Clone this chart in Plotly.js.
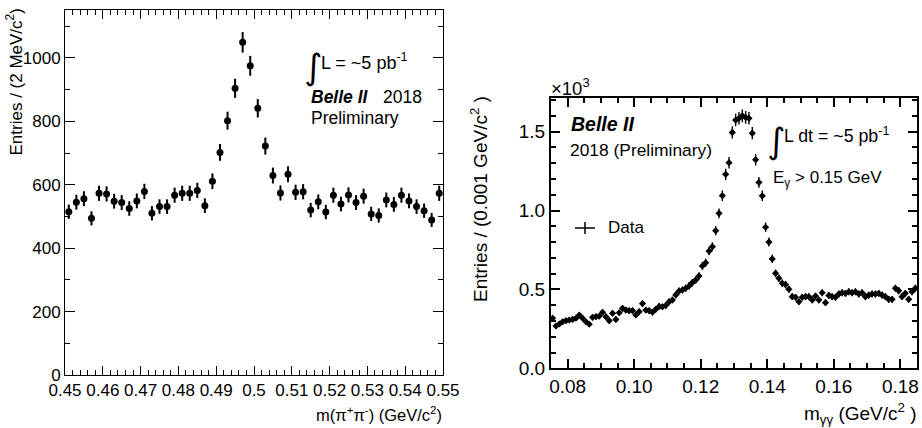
<!DOCTYPE html>
<html>
<head>
<meta charset="utf-8">
<script src="https://cdn.plot.ly/plotly-3.0.1.min.js"></script>
<style>html,body{margin:0;padding:0;background:#fff;}#chart{width:922px;height:428px;}</style>
</head>
<body>
<div id="chart"></div>
<script>
// ---- Left panel: m(pi+ pi-), 2 MeV bins ----
const ksMass = [0.451,0.453,0.455,0.457,0.459,0.461,0.463,0.465,0.467,0.469,
  0.471,0.473,0.475,0.477,0.479,0.481,0.483,0.485,0.487,0.489,
  0.491,0.493,0.495,0.497,0.499,0.501,0.503,0.505,0.507,0.509,
  0.511,0.513,0.515,0.517,0.519,0.521,0.523,0.525,0.527,0.529,
  0.531,0.533,0.535,0.537,0.539,0.541,0.543,0.545,0.547,0.549];
const ksEntries = [515,545,556,494,573,571,548,544,525,549,
  579,510,531,531,567,573,573,582,534,611,
  702,802,904,1049,975,841,722,629,574,633,
  576,578,520,546,514,567,539,568,544,564,
  508,503,552,538,567,549,531,518,489,573];

// ---- Right panel: m(gamma gamma), 1 MeV bins ----
const ggMass = [0.0755,0.0765,0.0775,0.0785,0.0795,0.0805,0.0815,0.0825,0.0835,0.0845,
  0.0855,0.0865,0.0875,0.0885,0.0895,0.0905,0.0915,0.0925,0.0935,0.0945,
  0.0955,0.0965,0.0975,0.0985,0.0995,0.1005,0.1015,0.1025,0.1035,0.1045,
  0.1055,0.1065,0.1075,0.1085,0.1095,0.1105,0.1115,0.1125,0.1135,0.1145,
  0.1155,0.1165,0.1175,0.1185,0.1195,0.1205,0.1215,0.1225,0.1235,0.1245,
  0.1255,0.1265,0.1275,0.1285,0.1295,0.1305,0.1315,0.1325,0.1335,0.1345,
  0.1355,0.1365,0.1375,0.1385,0.1395,0.1405,0.1415,0.1425,0.1435,0.1445,
  0.1455,0.1465,0.1475,0.1485,0.1495,0.1505,0.1515,0.1525,0.1535,0.1545,
  0.1555,0.1565,0.1575,0.1585,0.1595,0.1605,0.1615,0.1625,0.1635,0.1645,
  0.1655,0.1665,0.1675,0.1685,0.1695,0.1705,0.1715,0.1725,0.1735,0.1745,
  0.1755,0.1765,0.1775,0.1785,0.1795,0.1805,0.1815,0.1825,0.1835,0.1845];
const ggEntries = [317,268,281,295,302,306,310,317,338,317,
  295,279,323,327,331,355,327,302,349,310,
  352,380,369,365,365,338,359,410,369,365,
  355,374,392,390,398,422,433,465,490,496,
  507,522,543,560,585,648,669,743,771,872,
  982,1094,1229,1303,1495,1573,1584,1600,1590,1584,
  1490,1322,1178,1093,894,800,693,602,570,539,
  530,501,454,450,422,450,454,454,433,458,
  433,479,416,462,454,450,471,479,475,485,
  479,485,471,479,454,464,471,471,475,464,
  454,437,437,507,492,454,475,437,485,507];

const ggTickVals = [0, 500, 1000, 1500];
const ggTickText = ['0.0', '0.5', '1.0', '1.5'];

const W = 922, H = 428;
const px = x => x / W;
const py = y => 1 - y / H;
const FONT = 'Liberation Sans, Arial, Helvetica, sans-serif';

const traces = [
  {
    x: ksMass, y: ksEntries, type: 'scatter', mode: 'markers',
    xaxis: 'x', yaxis: 'y',
    marker: {color: '#000', size: 7, symbol: 'circle'},
    error_y: {type: 'sqrt', color: '#000', thickness: 2, width: 0},
    showlegend: false, hoverinfo: 'x+y'
  },
  {
    x: ggMass, y: ggEntries, type: 'scatter', mode: 'markers',
    xaxis: 'x2', yaxis: 'y2',
    marker: {color: '#000', size: 5.5, symbol: 'diamond'},
    error_y: {type: 'sqrt', color: '#000', thickness: 1.4, width: 0},
    error_x: {type: 'constant', value: 0.0005, color: '#000', thickness: 1.4, width: 0},
    showlegend: false, hoverinfo: 'x+y'
  }
];

const axisCommon = {
  showline: true, linecolor: '#000', mirror: 'allticks',
  ticks: 'inside', tickcolor: '#000', showgrid: false, zeroline: false
};

const layout = {
  width: W, height: H,
  margin: {l: 0, r: 0, t: 0, b: 0},
  paper_bgcolor: '#fff', plot_bgcolor: '#fff',
  font: {family: FONT, color: '#000'},
  showlegend: false,
  xaxis: Object.assign({}, axisCommon, {
    domain: [px(65), px(443)], range: [0.45, 0.55], anchor: 'y',
    dtick: 0.01, tick0: 0.45, ticklen: 9, tickwidth: 1, linewidth: 1,
    minor: {dtick: 0.002, ticks: 'inside', ticklen: 5, tickcolor: '#000', tickwidth: 1},
    tickfont: {family: FONT, size: 17, color: '#000'},
    ticklabelstandoff: 0
  }),
  yaxis: Object.assign({}, axisCommon, {
    domain: [py(375), py(10)], range: [0, 1151], anchor: 'x',
    dtick: 200, ticklen: 10, tickwidth: 1, linewidth: 1,
    minor: {dtick: 100, ticks: 'inside', ticklen: 5, tickcolor: '#000', tickwidth: 1},
    tickfont: {family: FONT, size: 17, color: '#000'},
    ticklabelstandoff: 0
  }),
  xaxis2: Object.assign({}, axisCommon, {
    domain: [px(551), px(917)], range: [0.075, 0.185], anchor: 'y2',
    dtick: 0.02, tick0: 0.08, tickformat: '.2f', ticklen: 9, tickwidth: 2, linewidth: 2,
    minor: {dtick: 0.005, ticks: 'inside', ticklen: 5, tickcolor: '#000', tickwidth: 2},
    tickfont: {family: FONT, size: 19, color: '#000'}
  }),
  yaxis2: Object.assign({}, axisCommon, {
    domain: [py(368.3), py(98.3)], range: [0, 1711], anchor: 'x2',
    tickvals: ggTickVals, ticktext: ggTickText, ticklen: 9, tickwidth: 2, linewidth: 2,
    minor: {dtick: 100, ticks: 'inside', ticklen: 5, tickcolor: '#000', tickwidth: 2},
    tickfont: {family: FONT, size: 19, color: '#000'}
  }),
  annotations: [
    // Left axis titles
    {xref: 'paper', yref: 'paper', x: px(15), y: py(7), xanchor: 'center', yanchor: 'top',
     textangle: -90, showarrow: false, text: 'Entries / (2 MeV/c<sup>2</sup>)',
     font: {family: FONT, size: 17}},
    {xref: 'paper', yref: 'paper', x: px(444), y: py(414), xanchor: 'right', yanchor: 'middle',
     showarrow: false, text: 'm(π<sup>+</sup>π<sup>-</sup>) (GeV/c<sup>2</sup>)',
     font: {family: FONT, size: 16.5}},
    // Left labels
    {xref: 'paper', yref: 'paper', x: px(302), y: py(67), xanchor: 'left', yanchor: 'middle',
     showarrow: false, text: '∫', font: {family: 'DejaVu Sans, sans-serif', size: 35}},
    {xref: 'paper', yref: 'paper', x: px(319), y: py(62), xanchor: 'left', yanchor: 'middle',
     showarrow: false, text: 'L = ~5 pb<sup>-1</sup>', font: {family: FONT, size: 18}},
    {xref: 'paper', yref: 'paper', x: px(309), y: py(97), xanchor: 'left', yanchor: 'middle',
     showarrow: false, text: '<b><i>Belle II</i></b>', font: {family: FONT, size: 17.5}},
    {xref: 'paper', yref: 'paper', x: px(381), y: py(97), xanchor: 'left', yanchor: 'middle',
     showarrow: false, text: '2018', font: {family: FONT, size: 17.5}},
    {xref: 'paper', yref: 'paper', x: px(309), y: py(118), xanchor: 'left', yanchor: 'middle',
     showarrow: false, text: 'Preliminary', font: {family: FONT, size: 17.5}},
    // Right axis titles
    {xref: 'paper', yref: 'paper', x: px(479), y: py(94), xanchor: 'center', yanchor: 'top',
     textangle: -90, showarrow: false, text: 'Entries / (0.001 GeV/c<sup>2</sup> )',
     font: {family: FONT, size: 19}},
    {xref: 'paper', yref: 'paper', x: px(919), y: py(413), xanchor: 'right', yanchor: 'middle',
     showarrow: false, text: 'm<sub>γγ</sub> (GeV/c<sup>2</sup> )',
     font: {family: FONT, size: 19}},
    {xref: 'paper', yref: 'paper', x: px(549), y: py(87), xanchor: 'left', yanchor: 'middle',
     showarrow: false, text: '×10<sup>3</sup>', font: {family: FONT, size: 18.5}},
    // Right labels
    {xref: 'paper', yref: 'paper', x: px(569), y: py(124), xanchor: 'left', yanchor: 'middle',
     showarrow: false, text: '<b><i>Belle II</i></b>', font: {family: FONT, size: 19.5}},
    {xref: 'paper', yref: 'paper', x: px(568), y: py(150), xanchor: 'left', yanchor: 'middle',
     showarrow: false, text: '2018 (Preliminary)', font: {family: FONT, size: 17.4}},
    {xref: 'paper', yref: 'paper', x: px(765), y: py(141), xanchor: 'left', yanchor: 'middle',
     showarrow: false, text: '∫', font: {family: 'DejaVu Sans, sans-serif', size: 35}},
    {xref: 'paper', yref: 'paper', x: px(782), y: py(135), xanchor: 'left', yanchor: 'middle',
     showarrow: false, text: 'L dt = ~5 pb<sup>-1</sup>', font: {family: FONT, size: 17.8}},
    {xref: 'paper', yref: 'paper', x: px(771), y: py(179), xanchor: 'left', yanchor: 'middle',
     showarrow: false, text: 'E<sub>γ</sub> > 0.15 GeV', font: {family: FONT, size: 17}},
    {xref: 'paper', yref: 'paper', x: px(606), y: py(228), xanchor: 'left', yanchor: 'middle',
     showarrow: false, text: 'Data', font: {family: FONT, size: 17}}
  ],
  shapes: [
    {type: 'line', xref: 'paper', yref: 'paper', x0: px(575), x1: px(595), y0: py(228), y1: py(228),
     line: {color: '#000', width: 1.5}},
    {type: 'line', xref: 'paper', yref: 'paper', x0: px(585), x1: px(585), y0: py(222), y1: py(234),
     line: {color: '#000', width: 1.5}}
  ]
};

Plotly.newPlot('chart', traces, layout, {staticPlot: true, displayModeBar: false});
</script>
</body>
</html>
